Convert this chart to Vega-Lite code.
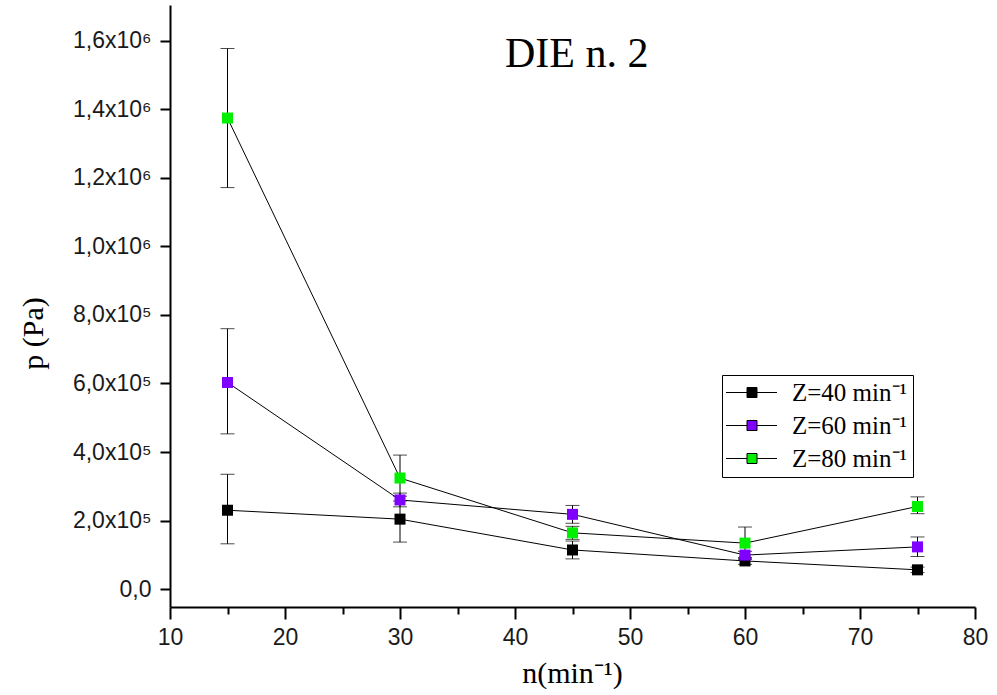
{
  "$schema": "https://vega.github.io/schema/vega-lite/v6.json",
  "width": 805,
  "height": 602,
  "autosize": {"type": "none"},
  "padding": {"left": 170, "top": 5, "right": 22, "bottom": 88},
  "background": "white",
  "config": {"view": {"stroke": null}, "axis": {"grid": false}},
  "title": {"text": "DIE n. 2", "font": "Liberation Serif", "fontSize": 42, "fontWeight": "normal", "color": "black", "anchor": "start", "frame": "group", "orient": "top", "offset": 0, "baseline": "alphabetic", "dx": 335, "dy": 104},
  "data": {"values": [
    {"n": 15, "series": "Z=40 min⁻¹", "p": 230000, "lo": 132000, "hi": 335000},
    {"n": 30, "series": "Z=40 min⁻¹", "p": 204000, "lo": 137000, "hi": 271000},
    {"n": 45, "series": "Z=40 min⁻¹", "p": 114000, "lo": 88000, "hi": 140000},
    {"n": 60, "series": "Z=40 min⁻¹", "p": 82000, "lo": 72000, "hi": 92000},
    {"n": 75, "series": "Z=40 min⁻¹", "p": 56000, "lo": 48000, "hi": 64000},
    {"n": 15, "series": "Z=60 min⁻¹", "p": 603000, "lo": 453000, "hi": 760000},
    {"n": 30, "series": "Z=60 min⁻¹", "p": 260000, "lo": 240000, "hi": 280000},
    {"n": 45, "series": "Z=60 min⁻¹", "p": 218000, "lo": 192000, "hi": 244000},
    {"n": 60, "series": "Z=60 min⁻¹", "p": 99000, "lo": 88000, "hi": 110000},
    {"n": 75, "series": "Z=60 min⁻¹", "p": 123000, "lo": 95000, "hi": 152000},
    {"n": 15, "series": "Z=80 min⁻¹", "p": 1375000, "lo": 1172000, "hi": 1578000},
    {"n": 30, "series": "Z=80 min⁻¹", "p": 324000, "lo": 257000, "hi": 391000},
    {"n": 45, "series": "Z=80 min⁻¹", "p": 164000, "lo": 145000, "hi": 183000},
    {"n": 60, "series": "Z=80 min⁻¹", "p": 134000, "lo": 87000, "hi": 181000},
    {"n": 75, "series": "Z=80 min⁻¹", "p": 241000, "lo": 220000, "hi": 269000}
  ]},
  "layer": [
    {
      "mark": {"type": "line", "color": "black", "strokeWidth": 1},
      "encoding": {
        "x": {"field": "n", "type": "quantitative", "title": "n(min⁻¹)", "scale": {"domain": [10, 80], "nice": false, "zero": false},
          "axis": {
            "values": [10, 15, 20, 25, 30, 35, 40, 45, 50, 55, 60, 65, 70, 75, 80],
            "labelExpr": "datum.value % 10 == 0 ? datum.label : ''",
            "tickSize": {"condition": {"test": "datum.value % 10 == 0", "value": 12}, "value": 7},
            "tickWidth": 2, "tickColor": "black", "domainColor": "black", "domainWidth": 2,
            "labelFont": "Liberation Sans", "labelFontSize": 23, "labelColor": "#1a1a1a", "labelPadding": 7,
            "labelOverlap": false, "labelFlush": false, "labelBound": false,
            "titleFont": "Liberation Serif", "titleFontSize": 30, "titleFontWeight": "normal", "titleColor": "black",
            "titleX": 402, "titleY": 66, "titleBaseline": "middle", "titleAlign": "center"
          }},
        "y": {"field": "p", "type": "quantitative", "title": "p (Pa)", "scale": {"domain": [-52500, 1705000], "nice": false, "zero": false},
          "axis": {
            "values": [0, 100000, 200000, 300000, 400000, 500000, 600000, 700000, 800000, 900000, 1000000, 1100000, 1200000, 1300000, 1400000, 1500000, 1600000],
            "labelExpr": "datum.value % 200000 != 0 ? '' : datum.value == 0 ? '0,0' : datum.value < 999999 ? replace(format(datum.value/100000, '.1f'), '.', ',') + 'x10⁵' : replace(format(datum.value/1000000, '.1f'), '.', ',') + 'x10⁶'",
            "tickSize": {"condition": {"test": "datum.value % 200000 == 0", "value": 10}, "value": 5},
            "tickWidth": 2, "tickColor": "black", "domainColor": "black", "domainWidth": 2,
            "labelFont": "Liberation Sans", "labelFontSize": 23, "labelColor": "#1a1a1a", "labelPadding": 9,
            "labelOverlap": false, "labelFlush": false, "labelBound": false,
            "titleFont": "Liberation Serif", "titleFontSize": 30, "titleFontWeight": "normal", "titleColor": "black",
            "titleAngle": 270, "titleX": -137, "titleY": 328, "titleBaseline": "middle", "titleAlign": "center"
          }},
        "detail": {"field": "series"}
      }
    },
    {
      "mark": {"type": "rule", "color": "black", "strokeWidth": 1},
      "encoding": {
        "x": {"field": "n", "type": "quantitative", "title": "n(min⁻¹)"},
        "y": {"field": "lo", "type": "quantitative", "title": "p (Pa)"},
        "y2": {"field": "hi"}
      }
    },
    {
      "mark": {"type": "tick", "orient": "horizontal", "color": "black", "size": 14, "thickness": 1},
      "encoding": {
        "x": {"field": "n", "type": "quantitative", "title": "n(min⁻¹)"},
        "y": {"field": "lo", "type": "quantitative", "title": "p (Pa)"}
      }
    },
    {
      "mark": {"type": "tick", "orient": "horizontal", "color": "black", "size": 14, "thickness": 1},
      "encoding": {
        "x": {"field": "n", "type": "quantitative", "title": "n(min⁻¹)"},
        "y": {"field": "hi", "type": "quantitative", "title": "p (Pa)"}
      }
    },
    {
      "mark": {"type": "square", "size": 121, "opacity": 1, "filled": true},
      "encoding": {
        "x": {"field": "n", "type": "quantitative", "title": "n(min⁻¹)"},
        "y": {"field": "p", "type": "quantitative", "title": "p (Pa)"},
        "fill": {"field": "series", "type": "nominal",
          "scale": {"range": ["#000000", "#7f00ff", "#00f000"]},
          "legend": {
            "orient": "none", "legendX": 552, "legendY": 370, "title": null,
            "strokeColor": "black", "fillColor": "white", "padding": 5,
            "labelFont": "Liberation Serif", "labelFontSize": 25, "labelColor": "black", "labelLimit": 300, "labelOffset": 40,
            "symbolType": "M-1.35,0H0.75M1.75,0H3.75M0.75,-0.5H1.75V0.5H0.75Z", "symbolSize": 400,
            "symbolStrokeColor": "black", "symbolStrokeWidth": 1, "symbolOpacity": 1, "rowPadding": 7
          }}
      }
    }
  ]
}
